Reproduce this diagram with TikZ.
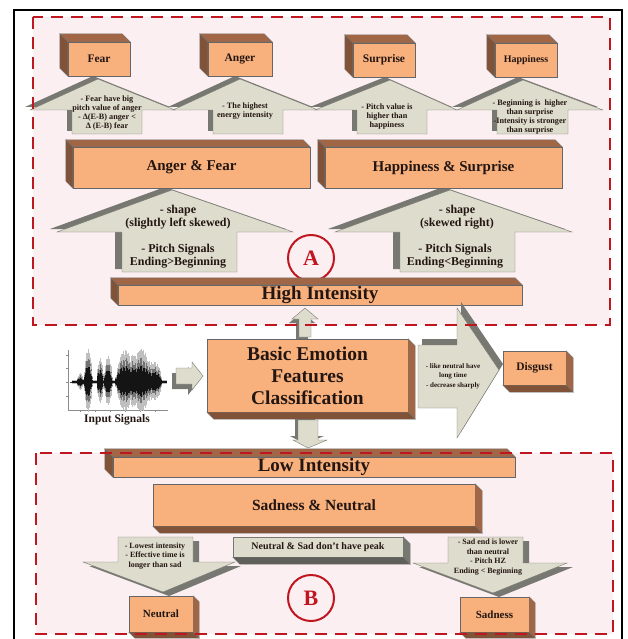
\documentclass[tikz,border=0pt]{standalone}
\usepackage{fontspec}
\setmainfont{Liberation Serif}
\usetikzlibrary{calc}
\definecolor{boxface}{RGB}{248,176,124}
\definecolor{boxside}{RGB}{160,102,70}
\definecolor{arrface}{RGB}{222,220,204}
\definecolor{arrside}{RGB}{120,120,114}
\definecolor{dashred}{RGB}{192,22,32}
\definecolor{zonebg}{RGB}{251,239,241}
\definecolor{ink}{RGB}{35,22,18}

% depth faces of a 3D box, up-left or down-right
\newcommand{\depthUL}[3][boxside]{%
  \filldraw[fill=#1,draw=black!55,line width=0.4pt] (#2.north west) -- ++(-#3,-#3) -- ($(#2.north east)+(-#3,-#3)$) -- (#2.north east) -- cycle;
  \filldraw[fill=#1!80!black,draw=black!55,line width=0.4pt] (#2.north west) -- ++(-#3,-#3) -- ($(#2.south west)+(-#3,-#3)$) -- (#2.south west) -- cycle;}
\newcommand{\depthDR}[3][boxside]{%
  \filldraw[fill=#1,draw=black!55,line width=0.4pt] (#2.north east) -- ++(#3,#3) -- ($(#2.south east)+(#3,#3)$) -- (#2.south east) -- cycle;
  \filldraw[fill=#1!80!black,draw=black!55,line width=0.4pt] (#2.south west) -- ++(#3,#3) -- ($(#2.south east)+(#3,#3)$) -- (#2.south east) -- cycle;}

% block arrows: shadow shift, tip, wings, head base, shaft sides, shaft end
\newcommand{\vblock}[9]{%
  \fill[arrside,shift={(#1)}] (#2,#3) -- (#5,#6) -- (#8,#6) -- (#8,#9) -- (#7,#9) -- (#7,#6) -- (#4,#6) -- cycle;
  \filldraw[fill=arrface,draw=arrside,line width=0.4pt] (#2,#3) -- (#5,#6) -- (#8,#6) -- (#8,#9) -- (#7,#9) -- (#7,#6) -- (#4,#6) -- cycle;}
\newcommand{\hblock}[9]{%
  \fill[arrside,shift={(#1)}] (#2,#3) -- (#6,#5) -- (#6,#8) -- (#9,#8) -- (#9,#7) -- (#6,#7) -- (#6,#4) -- cycle;
  \filldraw[fill=arrface,draw=arrside,line width=0.4pt] (#2,#3) -- (#6,#5) -- (#6,#8) -- (#9,#8) -- (#9,#7) -- (#6,#7) -- (#6,#4) -- cycle;}

\begin{document}
\begin{tikzpicture}[x=1pt,y=-1pt]
  %
  \tikzstyle{face} = [draw=black!60, line width=0.4pt, fill=boxface, inner sep=0pt, text=ink, font=\bfseries]
  \tikzstyle{gface} = [draw=arrside, line width=0.4pt, fill=arrface, inner sep=0pt, text=ink, font=\bfseries]
  \tikzstyle{txt} = [align=center, inner sep=0pt, text=ink]
  \tikzstyle{zone} = [draw=dashred, line width=2.8pt, dash pattern=on 12pt off 8pt]
  \tikzstyle{ring} = [circle, draw=dashred, line width=2pt, minimum size=46pt, inner sep=0pt, text=dashred, font=\bfseries\fontsize{22}{22}\selectfont]
  \tikzstyle{small} = [txt, font=\bfseries\fontsize{8.2}{9}\selectfont]
  \tikzstyle{big} = [txt, font=\bfseries\fontsize{12}{13}\selectfont]
  %
  \useasboundingbox (0,0) rectangle (628,639);
  \fill[white] (0,0) rectangle (628,639);
  \fill[zonebg] (33,17) rectangle (610,325);
  \fill[zonebg] (36,453) rectangle (613,634);
  \draw[line width=2.5pt] (14,639) -- (14,10) -- (622,10) -- (622,639);
  %
  % top emotions
  \vblock{-5,-3}{98}{79}{30}{175}{110}{72}{142}{134}
  \vblock{-5,-3}{240}{79}{173}{318}{110}{213}{283}{134}
  \vblock{-5,-3}{390}{80}{315}{457}{110}{357}{427}{134}
  \vblock{-5,-3}{523}{80}{457}{603}{110}{497}{568}{134}
  \node[face, minimum width=62pt, minimum height=34pt, font=\bfseries\fontsize{11.5}{11.5}\selectfont] (fear) at (99,59) {Fear};
  \node[face, minimum width=64pt, minimum height=34pt, font=\bfseries\fontsize{11.5}{11.5}\selectfont] (anger) at (240,59) {Anger};
  \node[face, minimum width=62pt, minimum height=34pt, font=\bfseries\fontsize{11.5}{11.5}\selectfont] (surprise) at (384,60) {Surprise};
  \node[face, minimum width=62pt, minimum height=34pt, font=\bfseries\fontsize{10}{10}\selectfont] (happy) at (526,60) {Happiness};
  \depthUL{fear}{8} \depthUL{anger}{8} \depthUL{surprise}{8} \depthUL{happy}{8}
  \node[small] (tfear) at (107,113) {- Fear have big\\pitch value of anger\\- Δ(E-B) anger <\\Δ (E-B) fear};
  \node[small] (tanger) at (245,111) {- The highest\\energy intensity};
  \node[small] (tsurp) at (387,117) {- Pitch value is\\higher than\\happiness};
  \node[small] (thappy) at (530,117) {- Beginning is\ \ higher\\than surprise\\-Intensity is stronger\\than surprise};
  %
  % groups
  \vblock{-7,-3}{172}{190}{57}{293}{232}{122}{237}{272}
  \vblock{-7,-3}{450}{190}{335}{572}{232}{400}{515}{272}
  \node[face, minimum width=237pt, minimum height=41pt, font=\bfseries\fontsize{15}{15}\selectfont] (angfear) at (191.5,167.5) {Anger \& Fear};
  \node[face, minimum width=237pt, minimum height=41pt, font=\bfseries\fontsize{15}{15}\selectfont] (hapsurp) at (443.5,167.5) {Happiness \& Surprise};
  \depthUL{angfear}{7} \depthUL{hapsurp}{7}
  \node[big] (tlefta) at (178,217) {- shape\\(slightly left skewed)};
  \node[big] (tleftb) at (178,256) {- Pitch Signals\\Ending>Beginning};
  \node[big] (trighta) at (457,217) {- shape\\(skewed right)};
  \node[big] (trightb) at (455,256) {- Pitch Signals\\Ending<Beginning};
  \node[ring] (circA) at (311,258) {A};
  \node[face, minimum width=404pt, minimum height=20pt, font=\bfseries\fontsize{19}{19}\selectfont] (high) at (320,295) {High Intensity};
  \depthUL{high}{7}
  %
  % classification
  \vblock{-3,4}{305}{308}{292}{318}{319}{299}{311}{337}
  \vblock{-3,-4}{308}{448}{293}{327}{440}{298}{318}{420}
  \hblock{-4,5}{203}{376}{362}{390}{192}{368}{384}{176}
  \hblock{4,-6}{499}{370}{308}{438}{457}{345}{408}{418}
  \node[face, minimum width=201pt, minimum height=73pt, align=center, font=\bfseries\fontsize{19.5}{22}\selectfont] (basic) at (307.5,375.5) {Basic Emotion\\Features\\Classification};
  \depthDR{basic}{7}
  \node[txt, font=\bfseries\fontsize{7}{9.5}\selectfont] (tdisg) at (453,376) {- like neutral have\\long time\\- decrease sharply};
  \node[face, minimum width=63pt, minimum height=34pt, font=\bfseries\fontsize{11.5}{11.5}\selectfont] (disgust) at (534.5,368) {Disgust};
  \depthDR{disgust}{7}
  %
  % input signal trace
  \draw[black!45, line width=0.3pt] (68,350) -- (68,410) -- (168,410);
  \foreach \ty in {355,368,382,396} \draw[black!45, line width=0.3pt] (68,\ty) -- (66,\ty);
  \foreach \tx in {80,95,110,125,140,155} \draw[black!45, line width=0.3pt] (\tx,410) -- (\tx,412);
  \draw[black!80, line width=0.6pt] (70,382) -- (166,382);
  \foreach \i in {0,...,235} {
    \pgfmathsetmacro\wx{72+\i*0.4}
    \pgfmathsetmacro\wa{(2+31*max(0,1-((\wx-88)/4.5)^2)+22*max(0,1-((\wx-100)/3.5)^2)+24*max(0,1-((\wx-108)/4.5)^2)+7*max(0,1-((\wx-80)/3)^2)+30*max(0,1-((\wx-125)/10)^2)+31*max(0,1-((\wx-141)/11)^2)+18*max(0,1-((\wx-155)/7)^2))*(0.65+0.35*abs(sin(\i*47)))}
    \draw[black!25, line width=0.5pt] (\wx,382-\wa) -- (\wx,382+0.9*\wa);
    \draw[black!55, line width=0.5pt] (\wx,382-0.75*\wa) -- (\wx,382+0.65*\wa);
    \draw[black!92, line width=0.5pt] (\wx,382-0.5*\wa) -- (\wx,382+0.45*\wa);
  }
  \node[txt, font=\bfseries\fontsize{11.5}{11.5}\selectfont] (inlbl) at (117,420) {Input Signals};
  %
  % low intensity
  \vblock{6,4}{163}{592}{83}{235}{562}{118}{193}{537}
  \vblock{6,4}{493}{593}{413}{567}{563}{448}{523}{537}
  \node[face, minimum width=402pt, minimum height=20pt, font=\bfseries\fontsize{19}{19}\selectfont] (low) at (314,467) {Low Intensity};
  \depthUL{low}{8}
  \node[face, minimum width=322pt, minimum height=42pt, font=\bfseries\fontsize{15.5}{15.5}\selectfont] (sadneu) at (314,505) {Sadness \& Neutral};
  \depthDR{sadneu}{7}
  \node[gface, minimum width=170pt, minimum height=20pt, font=\bfseries\fontsize{10}{10}\selectfont] (nopeak) at (318,547) {Neutral \& Sad don't have peak};
  \depthDR[arrside]{nopeak}{7}
  \node[txt, font=\bfseries\fontsize{8}{9.5}\selectfont] (tneu) at (155,556) {- Lowest intensity\\- Effective time is\\longer than sad};
  \node[txt, font=\bfseries\fontsize{8}{9.5}\selectfont] (tsad) at (488,557) {- Sad end is lower\\than neutral\\- Pitch HZ\\Ending < Beginning};
  \node[face, minimum width=64pt, minimum height=36pt, font=\bfseries\fontsize{11}{11}\selectfont] (neutral) at (161,614) {Neutral};
  \node[face, minimum width=69pt, minimum height=35pt, font=\bfseries\fontsize{11}{11}\selectfont] (sadness) at (494.5,614.5) {Sadness};
  \depthDR{neutral}{6} \depthDR{sadness}{6}
  \node[ring] (circB) at (311,598) {B};
  %
  \draw[zone] (33,17) rectangle (610,325);
  \draw[zone] (36,453) rectangle (613,634);
\end{tikzpicture}
\end{document}
